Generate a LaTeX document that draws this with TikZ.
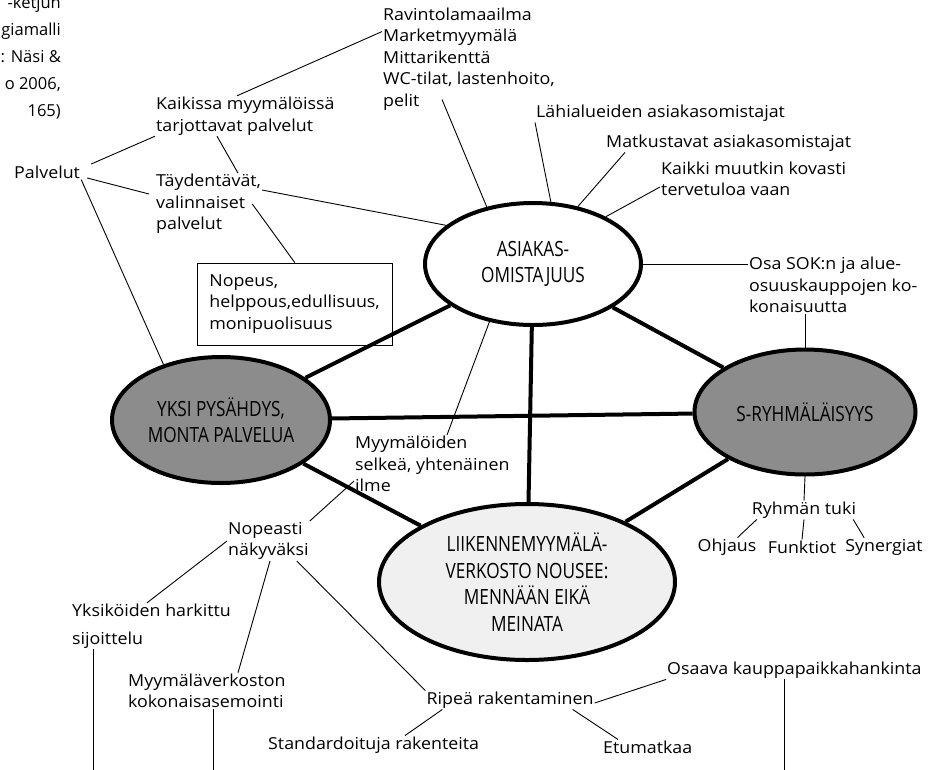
\documentclass[tikz,border=0pt]{standalone}
\usepackage{fontspec}
\setmainfont{Open Sans}[FakeStretch=1.08]
\newfontfamily\capsfont[FakeStretch=0.82]{Open Sans}
\newfontfamily\notefont{Open Sans}
\usetikzlibrary{shapes.geometric}

\begin{document}
\begin{tikzpicture}
[x=1pt, y=-1pt, font=\fontsize{16.5}{21.5}\selectfont]
\tikzstyle{hub}=[ellipse, draw, line width=4pt, inner sep=0pt, align=center, font=\capsfont\fontsize{21}{26.5}\selectfont]
\tikzstyle{tag}=[inner sep=1pt, align=left, anchor=west]
\tikzstyle{box}=[draw, line width=0.7pt, align=left, text width=171pt, inner xsep=12pt, minimum height=82pt, anchor=west]
\tikzstyle{tie}=[line width=4pt]
\tikzstyle{twig}=[line width=0.9pt]
\useasboundingbox (0,0) rectangle (928,769);

% the four main themes
\node[hub, minimum width=216pt, minimum height=122pt]	(asiakas)	at (533,264) {ASIAKAS-\\OMISTAJUUS};
\node[hub, minimum width=218pt, minimum height=126pt, fill=black!45]	(yksi)	at (221,420) {YKSI PYSÄHDYS,\\MONTA PALVELUA};
\node[hub, minimum width=221pt, minimum height=125pt, fill=black!45]	(sryhma)	at (805,412) {S-RYHMÄLÄISYYS};
\node[hub, minimum width=296pt, minimum height=156pt, fill=black!6]	(liike)	at (527,582) {LIIKENNEMYYMÄLÄ-\\VERKOSTO NOUSEE:\\MENNÄÄN EIKÄ\\MEINATA};

% cut caption
\node[inner sep=0pt, align=right, anchor=east, font=\notefont\fontsize{16.5}{27}\selectfont]	(caption)	at (61,58) {-ketjun\\giamalli\\: Näsi \&\\o 2006,\\165)};

% labels
\node[tag]	(rav)		at (382,59)		{Ravintolamaailma\\Marketmyymälä\\Mittarikenttä\\WC-tilat, lastenhoito,\\pelit};
\node[tag]	(lahi)		at (535,113)	{Lähialueiden asiakasomistajat};
\node[tag]	(matk)		at (605,143)	{Matkustavat asiakasomistajat};
\node[tag]	(kaikki)	at (660,179)	{Kaikki muutkin kovasti\\tervetuloa vaan};
\node[tag]	(kaikissa)	at (155,116)	{Kaikissa myymälöissä\\tarjottavat palvelut};
\node[tag]	(palvelut)	at (13,172)		{Palvelut};
\node[tag]	(tayd)		at (155,204)	{Täydentävät,\\valinnaiset\\palvelut};
\node[box]	(nopeus)	at (197,304)	{Nopeus,\\helppous,edullisuus,\\monipuolisuus};
\node[tag]	(osa)		at (748,285)	{Osa SOK:n ja alue-\\osuuskauppojen ko-\\konaisuutta};
\node[tag]	(myym)		at (354,464)	{Myymälöiden\\selkeä, yhtenäinen\\ilme};
\node[inner sep=1pt]	(ryhman)	at (804,510)	{Ryhmän tuki};
\node[inner sep=1pt]	(ohjaus)	at (727,547)	{Ohjaus};
\node[inner sep=1pt]	(funktiot)	at (802,547)	{Funktiot};
\node[inner sep=1pt]	(synergiat)	at (884,547)	{Synergiat};
\node[tag]	(nopeasti)	at (227,541)	{Nopeasti\\näkyväksi};
\node[tag]	(yksik)		at (71,626)		{Yksiköiden harkittu\\[6pt]sijoittelu};
\node[tag]	(myyver)	at (127,691)	{Myymäläverkoston\\kokonaisasemointi};
\node[inner sep=1pt]	(ripea)	at (510,700)	{Ripeä rakentaminen};
\node[tag]	(osaava)	at (666,670)	{Osaava kauppapaikkahankinta};
\node[tag]	(standard)	at (267,745)	{Standardoituja rakenteita};
\node[tag]	(etumatkaa)	at (602,747)	{Etumatkaa};

\coordinate (cut1) at (93,775);
\coordinate (cut2) at (213,775);
\coordinate (cut3) at (784,775);

% thick ties between the themes
\draw[tie]	(yksi)--(asiakas);
\draw[tie]	(yksi)--(sryhma);
\draw[tie]	(yksi)--(liike);
\draw[tie]	(asiakas)--(liike);
\draw[tie]	(asiakas)--(sryhma);
\draw[tie]	(sryhma)--(liike);

% thin lines
\draw[twig]	([yshift=-25pt]rav.north west)--([xshift=82pt]kaikissa.north west);
\draw[twig]	([shift={(60pt,12pt)}]rav.south west)--(asiakas.129);
\draw[twig]	(lahi.south west)--(asiakas.74);
\draw[twig]	([xshift=20pt]matk.south west)--(asiakas.52);
\draw[twig]	([yshift=-8pt]kaikki.west)--(asiakas.33);
\draw[twig]	([shift={(10pt,8pt)}]palvelut.east)--(kaikissa.south west);
\draw[twig]	([shift={(6pt,-6pt)}]palvelut.east)--([shift={(-6pt,10pt)}]tayd.west);
\draw[twig]	(palvelut.south east)--(yksi.136);
\draw[twig]	([xshift=62pt]kaikissa.south west)--([xshift=83pt]tayd.north west);
\draw[twig]	([yshift=-17pt]tayd.north east)--(asiakas.156);
\draw[twig]	([xshift=-10pt]tayd.east)--(nopeus.north);
\draw[twig]	(asiakas.east)--(asiakas.east -| osa.west);
\draw[twig]	(sryhma.north)--(sryhma.north |- osa.south);
\draw[twig]	([xshift=93pt]myym.north west)--(asiakas.233);
\draw[twig]	(sryhma.south)--(ryhman.north);
\draw[twig]	([xshift=6pt]ryhman.south west)--([xshift=-20pt]ohjaus.north east);
\draw[twig]	(ryhman.south)--(funktiot.north);
\draw[twig]	([xshift=-4pt]ryhman.south east)--([xshift=20pt]synergiat.north west);
\draw[twig]	(nopeasti.north east)--([yshift=12pt]myym.south west);
\draw[twig]	(nopeasti.west)--([xshift=76pt]yksik.north west);
\draw[twig]	([xshift=43pt]nopeasti.south west)--([xshift=111pt]myyver.north west);
\draw[twig]	([xshift=-13pt]nopeasti.south east)--(ripea.north west);
\draw[twig]	([yshift=-3pt]ripea.east)--(osaava.south west);
\draw[twig]	([xshift=-22pt]ripea.south east)--([xshift=16pt]etumatkaa.north west);
\draw[twig]	([xshift=17pt]ripea.south west)--([xshift=138pt]standard.north west);
\draw[twig]	(yksik.south west -| cut1)--(cut1);
\draw[twig]	(myyver.south west -| cut2)--(cut2);
\draw[twig]	(osaava.south west -| cut3)--(cut3);

\end{tikzpicture}
\end{document}
